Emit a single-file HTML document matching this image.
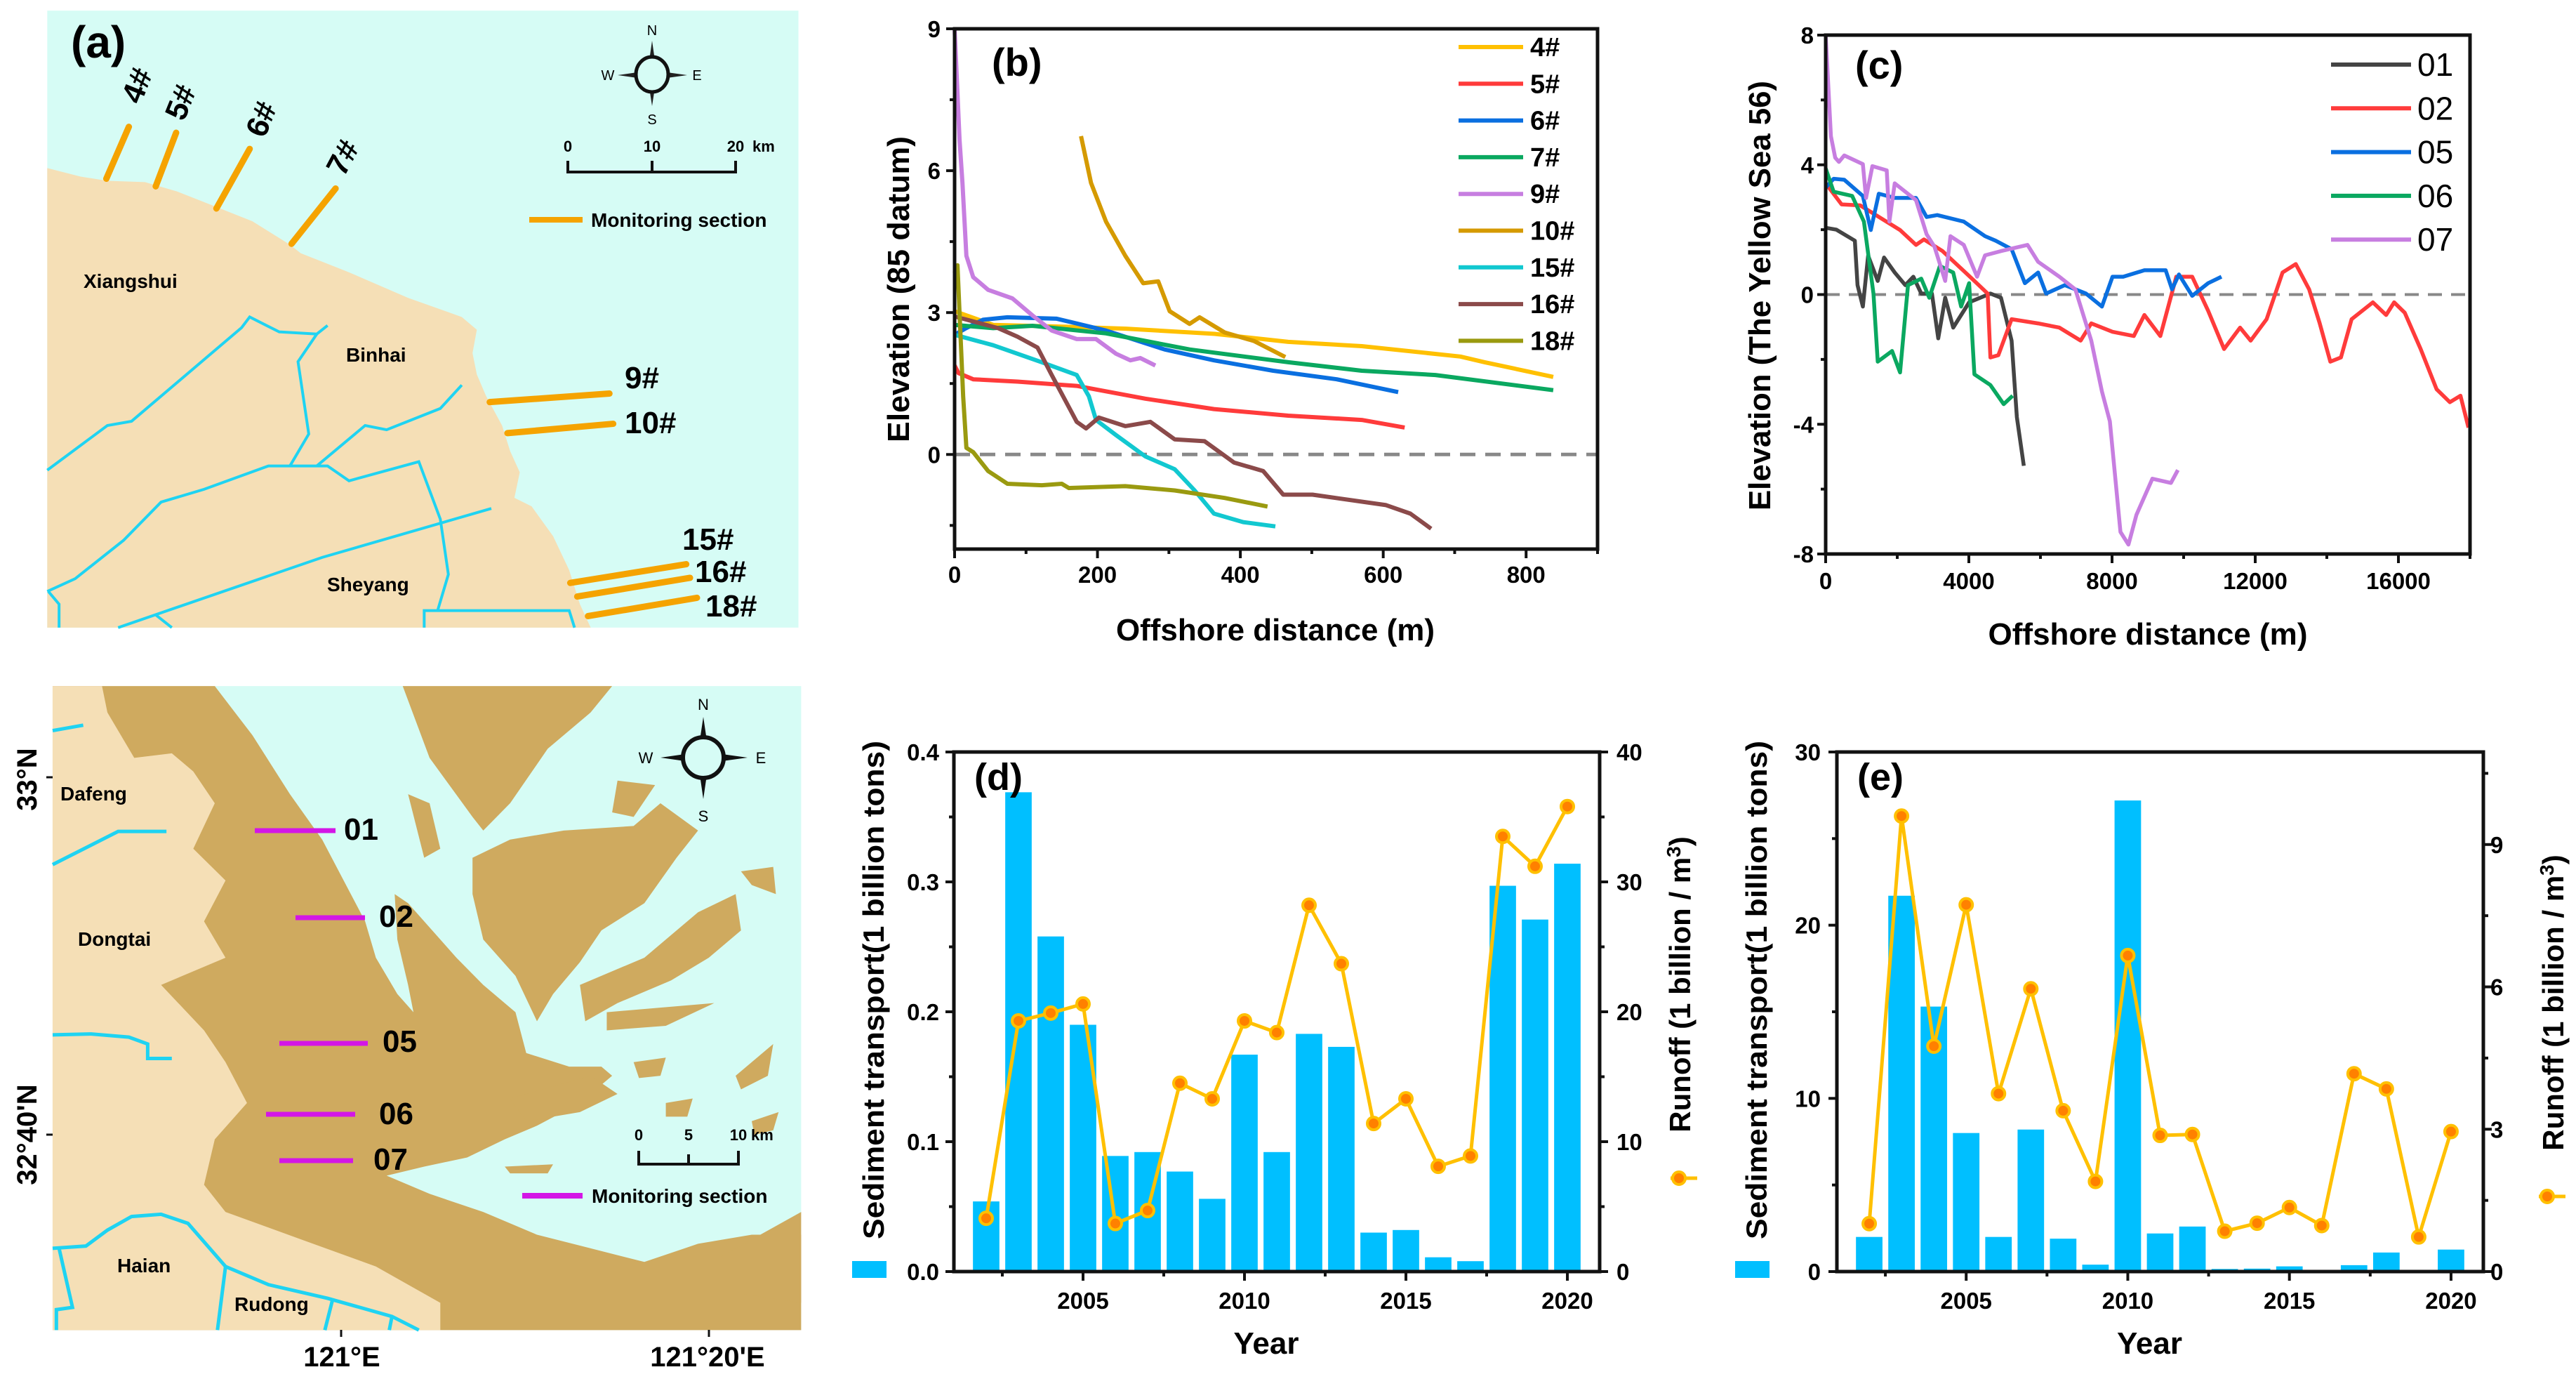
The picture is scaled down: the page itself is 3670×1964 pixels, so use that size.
<!DOCTYPE html>
<html><head><meta charset="utf-8"><title>Coastal monitoring figure</title>
<style>
html,body{margin:0;padding:0;background:#fff;}
svg{display:block;font-family:"Liberation Sans",Arial,sans-serif;}
.b{font-weight:bold;}
</style></head>
<body>
<svg id="fig" xmlns="http://www.w3.org/2000/svg" width="3670" height="1964" viewBox="0 0 3670 1964">
<rect x="0" y="0" width="3670" height="1964" fill="#fff"/>

<!-- MAP A -->
<g>
 <g transform="matrix(0.765,0,0,0.606,0,0)">
  <rect x="88" y="25" width="1399" height="1450" fill="#d6fcf5"/>
  <polygon fill="#f5dfb6" points="88,395 150,415 200,425 270,428 330,450 400,485 470,520 540,575 560,595 650,640 760,700 860,745 888,775 880,830 888,880 905,930 935,1000 950,1060 968,1110 958,1170 990,1190 1030,1260 1060,1340 1080,1420 1100,1475 88,1475"/>
  <g fill="none" stroke="#1fd3f2" stroke-width="4" vector-effect="non-scaling-stroke">
   <polyline vector-effect="non-scaling-stroke" points="88,1105 200,1000 245,990 450,770 465,745 520,780 590,785 610,765"/>
   <polyline vector-effect="non-scaling-stroke" points="590,785 555,850 575,1020 540,1095"/>
   <polyline vector-effect="non-scaling-stroke" points="88,1390 140,1360 230,1270 300,1180 380,1150 500,1095 610,1095 650,1130 780,1085 820,1220 835,1350 815,1435"/>
   <polyline vector-effect="non-scaling-stroke" points="590,1095 680,1000 720,1010 820,960 860,905"/>
   <polyline vector-effect="non-scaling-stroke" points="220,1475 600,1310 915,1195"/>
   <polyline vector-effect="non-scaling-stroke" points="90,1390 110,1420 110,1475"/>
   <polyline vector-effect="non-scaling-stroke" points="290,1445 320,1475"/>
   <polyline vector-effect="non-scaling-stroke" points="790,1475 790,1435 1060,1435 1070,1475"/>
  </g>
  <g stroke="#f5a300" stroke-width="9" stroke-linecap="round" vector-effect="non-scaling-stroke">
   <line vector-effect="non-scaling-stroke" x1="198" y1="420" x2="240" y2="298"/>
   <line vector-effect="non-scaling-stroke" x1="290" y1="438" x2="328" y2="312"/>
   <line vector-effect="non-scaling-stroke" x1="403" y1="490" x2="465" y2="350"/>
   <line vector-effect="non-scaling-stroke" x1="543" y1="573" x2="625" y2="443"/>
   <line vector-effect="non-scaling-stroke" x1="912" y1="945" x2="1135" y2="925"/>
   <line vector-effect="non-scaling-stroke" x1="945" y1="1018" x2="1142" y2="996"/>
   <line vector-effect="non-scaling-stroke" x1="1062" y1="1370" x2="1278" y2="1326"/>
   <line vector-effect="non-scaling-stroke" x1="1075" y1="1402" x2="1285" y2="1358"/>
   <line vector-effect="non-scaling-stroke" x1="1095" y1="1448" x2="1298" y2="1405"/>
  </g>
 </g>
 <text x="101" y="82" font-size="64" class="b">(a)</text>
 <g class="b" font-size="44">
  <text transform="translate(200,150) rotate(-68)">4#</text>
  <text transform="translate(262,174) rotate(-68)">5#</text>
  <text transform="translate(377,198) rotate(-68)">6#</text>
  <text transform="translate(490,253) rotate(-62)">7#</text>
  <text x="890" y="553">9#</text>
  <text x="890" y="617">10#</text>
  <text x="972" y="783">15#</text>
  <text x="990" y="829">16#</text>
  <text x="1005" y="878">18#</text>
 </g>
 <g class="b" font-size="28">
  <text x="119" y="410">Xiangshui</text>
  <text x="493" y="515">Binhai</text>
  <text x="466" y="842">Sheyang</text>
 </g>
 <g>
  <polygon points="929,58 935,100 929,106 923,100" fill="#222"/>
  <polygon points="929,151 935,112 929,106 923,112" fill="#222"/>
  <polygon points="880,107 922,101 929,107 922,113" fill="#222"/>
  <polygon points="979,107 936,101 929,107 936,113" fill="#222"/>
  <ellipse cx="929" cy="106" rx="23" ry="25" fill="#d6fcf5" stroke="#111" stroke-width="5"/>
  <text x="929" y="50" font-size="20" text-anchor="middle">N</text>
  <text x="929" y="177" font-size="20" text-anchor="middle">S</text>
  <text x="866" y="114" font-size="20" text-anchor="middle">W</text>
  <text x="993" y="114" font-size="20" text-anchor="middle">E</text>
 </g>
 <g>
  <polyline points="809,229 809,245 1048,245 1048,229" fill="none" stroke="#111" stroke-width="4"/>
  <line x1="929" y1="229" x2="929" y2="245" stroke="#111" stroke-width="4"/>
  <text x="809" y="216" font-size="22" class="b" text-anchor="middle">0</text>
  <text x="929" y="216" font-size="22" class="b" text-anchor="middle">10</text>
  <text x="1048" y="216" font-size="22" class="b" text-anchor="middle">20</text>
  <text x="1072" y="216" font-size="22" class="b">km</text>
 </g>
 <g>
  <line x1="754" y1="313" x2="830" y2="313" stroke="#f5a300" stroke-width="8"/>
  <text x="842" y="323" font-size="28" class="b">Monitoring section</text>
 </g>
</g>

<!-- MAP B -->
<g>
 <g transform="matrix(0.765,0,0,0.6468,0,950)">
  <rect x="98" y="42" width="1394" height="1418" fill="#d6fcf5"/>
  <g fill="#cfaa5f">
   <polygon points="98,42 400,42 470,150 540,280 600,380 640,470 680,560 700,640 740,720 770,760 760,700 740,600 735,500 760,520 850,640 900,700 960,760 980,850 1060,880 1120,880 1140,900 1080,960 1000,1010 940,1040 870,1080 790,1100 720,1120 800,1160 900,1200 1000,1250 1100,1280 1200,1310 1300,1270 1400,1250 1492,1250 1492,1460 98,1460"/>
   <polygon points="750,42 1140,42 1100,100 1020,180 950,300 900,360 880,330 800,200"/>
   <polygon points="880,420 950,380 1050,360 1180,350 1230,300 1300,360 1260,420 1200,520 1120,580 1080,650 1030,720 1000,780 960,680 900,600 880,500"/>
   <polygon points="1080,700 1200,640 1300,540 1370,500 1380,580 1320,640 1250,690 1150,740 1090,780"/>
   <polygon points="950,950 1100,900 1150,940 1080,980 980,1000"/>
   <polygon points="1130,760 1330,740 1240,790 1130,800"/>
   <polygon points="1370,900 1440,830 1430,900 1380,930"/>
   <polygon points="1240,960 1290,950 1280,990 1240,990"/>
   <polygon points="1380,450 1440,440 1445,500 1400,480"/>
   <polygon points="940,1100 1030,1095 1020,1115 950,1115"/>
   <polygon points="1340,1300 1492,1200 1492,1400 1380,1380"/>
   <polygon points="1150,250 1220,260 1180,330 1140,320"/>
   <polygon points="760,280 800,300 820,400 790,420"/>
   <polygon points="1180,870 1240,860 1230,900 1190,905"/>
   <polygon points="1400,1000 1450,980 1440,1020 1405,1030"/>
  </g>
  <polygon fill="#f5dfb6" points="98,42 190,42 200,100 250,200 320,190 360,230 400,300 360,400 420,470 380,560 420,640 300,700 380,800 420,870 460,960 400,1040 380,1140 420,1200 560,1260 700,1320 820,1400 820,1460 98,1460"/>
  <g fill="none" stroke="#1fd3f2" stroke-width="5">
   <polyline vector-effect="non-scaling-stroke" points="98,140 155,128"/>
   <polyline vector-effect="non-scaling-stroke" points="98,435 220,362 310,362"/>
   <polyline vector-effect="non-scaling-stroke" points="98,810 170,808 240,815 275,830 275,862 320,862"/>
   <polyline vector-effect="non-scaling-stroke" points="98,1280 160,1275 200,1240 245,1210 300,1205 350,1225 420,1320 500,1360 610,1390 730,1430 780,1460"/>
   <polyline vector-effect="non-scaling-stroke" points="110,1280 135,1410 105,1415 105,1460"/>
   <polyline vector-effect="non-scaling-stroke" points="420,1320 405,1460"/>
   <polyline vector-effect="non-scaling-stroke" points="620,1390 605,1460"/>
   <polyline vector-effect="non-scaling-stroke" points="730,1430 725,1460"/>
  </g>
 </g>
 <g stroke="#d316e6" stroke-width="7">
  <line x1="363" y1="1183" x2="478" y2="1183"/>
  <line x1="421" y1="1307" x2="520" y2="1307"/>
  <line x1="398" y1="1486" x2="524" y2="1486"/>
  <line x1="379" y1="1587" x2="506" y2="1587"/>
  <line x1="398" y1="1653" x2="503" y2="1653"/>
 </g>
 <g class="b" font-size="44">
  <text x="490" y="1196">01</text>
  <text x="540" y="1320">02</text>
  <text x="545" y="1498">05</text>
  <text x="540" y="1601">06</text>
  <text x="532" y="1666">07</text>
 </g>
 <g class="b" font-size="28">
  <text x="86" y="1140">Dafeng</text>
  <text x="111" y="1347">Dongtai</text>
  <text x="167" y="1812">Haian</text>
  <text x="334" y="1867">Rudong</text>
 </g>
 <g>
  <polygon points="1002,1021 1009,1068 1002,1079 995,1068" fill="#111"/>
  <polygon points="1002,1138 1009,1090 1002,1079 995,1090" fill="#111"/>
  <polygon points="941,1079 990,1072 1002,1079 990,1086" fill="#111"/>
  <polygon points="1065,1079 1014,1072 1002,1079 1014,1086" fill="#111"/>
  <circle cx="1002" cy="1079" r="29" fill="#d6fcf5" stroke="#111" stroke-width="6"/>
  <text x="1002" y="1011" font-size="22" text-anchor="middle">N</text>
  <text x="1002" y="1170" font-size="22" text-anchor="middle">S</text>
  <text x="920" y="1087" font-size="22" text-anchor="middle">W</text>
  <text x="1084" y="1087" font-size="22" text-anchor="middle">E</text>
 </g>
 <g>
  <polyline points="910,1639 910,1658 1052,1658 1052,1639" fill="none" stroke="#111" stroke-width="4"/>
  <line x1="981" y1="1644" x2="981" y2="1658" stroke="#111" stroke-width="4"/>
  <text x="910" y="1624" font-size="22" class="b" text-anchor="middle">0</text>
  <text x="981" y="1624" font-size="22" class="b" text-anchor="middle">5</text>
  <text x="1052" y="1624" font-size="22" class="b" text-anchor="middle">10</text>
  <text x="1070" y="1624" font-size="22" class="b">km</text>
 </g>
 <g>
  <line x1="744" y1="1703" x2="830" y2="1703" stroke="#d316e6" stroke-width="8"/>
  <text x="843" y="1713" font-size="28" class="b">Monitoring section</text>
 </g>
 <g>
  <line x1="66" y1="1107" x2="75" y2="1107" stroke="#111" stroke-width="3"/>
  <line x1="66" y1="1616" x2="75" y2="1616" stroke="#111" stroke-width="3"/>
  <line x1="486" y1="1894" x2="486" y2="1904" stroke="#111" stroke-width="3"/>
  <line x1="1010" y1="1894" x2="1010" y2="1904" stroke="#111" stroke-width="3"/>
  <text transform="translate(52,1110) rotate(-90)" font-size="40" class="b" text-anchor="middle">33°N</text>
  <text transform="translate(52,1616) rotate(-90)" font-size="40" class="b" text-anchor="middle">32°40'N</text>
  <text x="487" y="1946" font-size="40" class="b" text-anchor="middle">121°E</text>
  <text x="1008" y="1946" font-size="40" class="b" text-anchor="middle">121°20'E</text>
 </g>
</g>

<g id="charts"></g>
</svg>

<script>
// ---------- Panel (b) data ----------
const bNames = ['4#','5#','6#','7#','9#','10#','15#','16#','18#'];
const bColors = ['#ffc000','#ff3b3b','#0a6fe0','#0aa860','#c77ee0','#d59a00','#12c8d0','#8b4a4a','#9a9a10'];
const b4x = [0,54,157,240,364,467,570,708,742,838];
const b4y = [3.03,2.74,2.70,2.66,2.55,2.38,2.29,2.07,1.95,1.64];
const b5x = [0,5.5,26,88,171,267,363,467,570,630];
const b5y = [1.88,1.72,1.59,1.54,1.45,1.18,0.96,0.82,0.73,0.57];
const b6x = [0,16,40,74,143,212,294,363,446,535,621];
const b6y = [2.53,2.67,2.85,2.9,2.87,2.62,2.22,1.99,1.77,1.59,1.32];
const b7x = [0,54,109,212,329,467,570,673,838];
const b7y = [2.74,2.67,2.72,2.56,2.22,1.95,1.77,1.68,1.36];
const b9x = [0,7,11,16.5,26,47,81,109,136,171,198,226,246,260,281];
const b9y = [9,6.64,5.74,4.2,3.75,3.48,3.3,2.94,2.62,2.44,2.44,2.13,1.99,2.04,1.88];
const b10x = [177,191,212,239,264,285,301,329,343,378,419,463];
const b10y = [6.73,5.74,4.92,4.2,3.62,3.66,3.03,2.76,2.9,2.58,2.4,2.06];
const b15x = [0,54,122,171,188,198,226,267,308,336,363,404,449];
const b15y = [2.53,2.31,1.95,1.68,1.23,0.73,0.41,-0.04,-0.31,-0.76,-1.25,-1.43,-1.52];
const b16x = [0,61,88,116,136,171,184,202,239,274,308,350,391,432,460,501,604,638,667];
const b16y = [2.92,2.67,2.49,2.26,1.68,0.69,0.55,0.78,0.6,0.69,0.32,0.28,-0.17,-0.35,-0.85,-0.85,-1.07,-1.25,-1.57];
const b18x = [0,4,12,16.5,26,47,74,122,150,160,239,308,378,438];
const b18y = [3.84,4.0,1.23,0.14,0.05,-0.35,-0.62,-0.65,-0.62,-0.71,-0.67,-0.76,-0.92,-1.1];
const bXTicks = [0,200,400,600,800];
const bYTicks = [0,3,6,9];

// ---------- Panel (c) data ----------
const cNames = ['01','02','05','06','07'];
const cColors = ['#444444','#ff3b3b','#0a6fe0','#0aa860','#c77ee0'];
const c01x = [0,300,816,890,1039,1187,1454,1632,1929,2226,2449,2671,2968,3146,3339,3562,4007,4601,4898,5194,5342,5535];
const c01y = [2.06,2.0,1.66,0.29,-0.37,1.2,0.42,1.14,0.68,0.29,0.55,0.03,0.03,-1.35,-0.1,-1.02,-0.24,0.03,-0.1,-1.42,-3.78,-5.28];
const c02x = [0,445,965,2078,2523,2745,3265,4155,4526,4601,4823,5194,5936,6530,7124,7420,8014,8608,8904,9349,9794,10240,10685,11130,11576,11873,12318,12763,13134,13505,13802,14099,14395,14692,15286,15657,15880,16176,16621,17066,17437,17734,17956];
const c02y = [3.43,2.78,2.75,1.99,1.53,1.7,1.34,0.42,0.03,-1.94,-1.87,-0.76,-0.89,-1.02,-1.42,-0.89,-1.15,-1.28,-0.63,-1.28,0.55,0.55,-0.5,-1.68,-1.02,-1.42,-0.76,0.68,0.94,0.16,-0.89,-2.07,-1.94,-0.76,-0.24,-0.63,-0.24,-0.56,-1.68,-2.92,-3.32,-3.12,-4.1];
const c05x = [0,223,519,1039,1261,1484,1929,2523,2820,3117,3858,4452,4749,5194,5565,5936,6158,6678,7272,7717,8014,8311,8904,9498,9676,9869,10240,10685,11056];
const c05y = [3.3,3.57,3.54,3.04,1.99,3.11,2.98,2.98,2.39,2.45,2.25,1.8,1.66,1.4,0.35,0.68,0.03,0.29,0.03,-0.37,0.55,0.55,0.75,0.75,0.16,0.62,-0.04,0.35,0.55];
const c06x = [0,223,742,1068,1335,1454,1855,2078,2300,2671,2894,3191,3562,3784,4007,4155,4601,4972,5224];
const c06y = [3.89,3.17,3.04,2.25,0.03,-2.07,-1.74,-2.4,0.29,0.49,-0.1,0.88,0.68,-0.37,0.35,-2.46,-2.79,-3.38,-3.12];
const c07x = [0,148,267,371,519,1039,1128,1306,1706,1781,1929,2523,2820,3042,3339,3487,3858,4229,4452,4898,5639,5936,6530,6975,7420,7717,7939,8236,8459,8682,9127,9646,9839];
const c07y = [8,4.88,4.22,4.09,4.29,4.02,2.98,3.96,3.83,2.25,3.43,2.91,1.86,1.47,0.42,1.8,1.53,0.55,1.21,1.34,1.53,1.01,0.55,0.16,-1.42,-2.99,-3.91,-7.32,-7.71,-6.79,-5.68,-5.81,-5.41];
const cXTicks = [0,4000,8000,12000,16000];
const cYTicks = [-8,-4,0,4,8];

// ---------- Panel (d) data ----------
const years = [2002,2003,2004,2005,2006,2007,2008,2009,2010,2011,2012,2013,2014,2015,2016,2017,2018,2019,2020];
const dSediment = [0.054,0.369,0.258,0.190,0.089,0.092,0.077,0.056,0.167,0.092,0.183,0.173,0.030,0.032,0.011,0.008,0.297,0.271,0.314];
const dRunoff = [4.1,19.3,19.9,20.6,3.7,4.7,14.5,13.3,19.3,18.4,28.2,23.7,11.4,13.3,8.1,8.9,33.5,31.2,35.8];
const dLeftTicks = ['0.0','0.1','0.2','0.3','0.4'];
const dRightTicks = [0,10,20,30,40];

// ---------- Panel (e) data ----------
const eSediment = [2.0,21.7,15.3,8.0,2.0,8.2,1.9,0.4,27.2,2.2,2.6,0.15,0.17,0.3,0.05,0.37,1.1,0,1.27];
const eRunoff = [1.01,9.6,4.75,7.73,3.75,5.96,3.39,1.9,6.66,2.87,2.89,0.85,1.02,1.35,0.97,4.17,3.85,0.73,2.95];
const eLeftTicks = [0,10,20,30];
const eRightTicks = [0,3,6,9];
const yearTicks = [2005,2010,2015,2020];

const NS = 'http://www.w3.org/2000/svg';
const root = document.getElementById('charts');
function mk(tag, attrs, parent){
  const el = document.createElementNS(NS, tag);
  for (const k in attrs) el.setAttribute(k, attrs[k]);
  (parent||root).appendChild(el);
  return el;
}
function txt(str, attrs, parent){
  const t = mk('text', attrs, parent);
  t.textContent = str;
  return t;
}
function pathFrom(xs, ys, fx, fy){
  let d = '';
  for (let i=0;i<xs.length;i++) d += (i?'L':'M') + fx(xs[i]).toFixed(1) + ',' + fy(ys[i]).toFixed(1);
  return d;
}
const AX = '#111', AW = 5;

// ===== Panel (b) =====
const bL=1360,bR=2276,bT=41,bB=782;
const bx = v => bL + v*(bR-bL)/900;
const by = v => bB - (v+2)*(bB-bT)/11;
const gb = mk('g',{});


const bZero = mk('line',{x1:bL,x2:bR,y1:by(0),y2:by(0),stroke:'#888','stroke-width':5,'stroke-dasharray':'22,14'},gb);


const bSeriesX=[b4x,b5x,b6x,b7x,b9x,b10x,b15x,b16x,b18x];
const bSeriesY=[b4y,b5y,b6y,b7y,b9y,b10y,b15y,b16y,b18y];
for (let i=0;i<bNames.length;i++){
  const p = mk('path',{d:pathFrom(bSeriesX[i],bSeriesY[i],bx,by),fill:'none',stroke:bColors[i],'stroke-width':6,'stroke-linejoin':'round'},gb);
  
  
  const ly = 67 + i*52.3;
  const ll = mk('line',{x1:2078,x2:2170,y1:ly,y2:ly,stroke:bColors[i],'stroke-width':6},gb);
  
  
  const lt = txt(bNames[i],{x:2180,y:ly+13,'font-size':38,'font-weight':'bold'},gb);
  
  
}
const bFrame = mk('rect',{x:bL,y:bT,width:bR-bL,height:bB-bT,fill:'none',stroke:AX,'stroke-width':AW},gb);


for (const v of bXTicks){
  const t = mk('line',{x1:bx(v),x2:bx(v),y1:bB,y2:bB+13,stroke:AX,'stroke-width':4},gb);
  
  
  const l = txt(String(v),{x:bx(v),y:830,'font-size':33,'font-weight':'bold','text-anchor':'middle'},gb);
  
  
  if (v+100<=900){ const m=mk('line',{x1:bx(v+100),x2:bx(v+100),y1:bB,y2:bB+7,stroke:AX,'stroke-width':4},gb);   }
}
for (const v of bYTicks){
  const t = mk('line',{x1:bL-12,x2:bL,y1:by(v),y2:by(v),stroke:AX,'stroke-width':4},gb);
  
  
  const l = txt(String(v),{x:1340,y:by(v)+12,'font-size':33,'font-weight':'bold','text-anchor':'end'},gb);
  
  
  if (v-1.5>=-2){ const m=mk('line',{x1:bL-7,x2:bL,y1:by(v-1.5),y2:by(v-1.5),stroke:AX,'stroke-width':4},gb);   }
}
const bxt = txt('Offshore distance (m)',{x:1817,y:912,'font-size':44,'font-weight':'bold','text-anchor':'middle',textLength:454,lengthAdjust:'spacingAndGlyphs'},gb);


const byt = txt('Elevation (85 datum)',{transform:'translate(1295,412) rotate(-90)','font-size':44,'font-weight':'bold','text-anchor':'middle',textLength:436,lengthAdjust:'spacingAndGlyphs'},gb);


const bLab = txt('(b)',{x:1413,y:108,'font-size':56,'font-weight':'bold'},gb);



// ===== Panel (c) =====
const cL=2601,cR=3519,cT=50,cB=789;
const cx = v => cL + v*(cR-cL)/18000;
const cy = v => cB - (v+8)*(cB-cT)/16;
const gc = mk('g',{});


const cZero = mk('line',{x1:cL,x2:cR,y1:cy(0),y2:cy(0),stroke:'#888','stroke-width':4,'stroke-dasharray':'20,13'},gc);


const cSeriesX=[c01x,c02x,c05x,c06x,c07x];
const cSeriesY=[c01y,c02y,c05y,c06y,c07y];
for (let i=0;i<cNames.length;i++){
  const p = mk('path',{d:pathFrom(cSeriesX[i],cSeriesY[i],cx,cy),fill:'none',stroke:cColors[i],'stroke-width':5.5,'stroke-linejoin':'round'},gc);
  
  
  const ly = 92 + i*62.3;
  const ll = mk('line',{x1:3321,x2:3435,y1:ly,y2:ly,stroke:cColors[i],'stroke-width':6},gc);
  
  
  const lt = txt(cNames[i],{x:3444,y:ly+16,'font-size':46},gc);
  
  
}
const cFrame = mk('rect',{x:cL,y:cT,width:cR-cL,height:cB-cT,fill:'none',stroke:AX,'stroke-width':AW},gc);


for (const v of cXTicks){
  const t = mk('line',{x1:cx(v),x2:cx(v),y1:cB,y2:cB+13,stroke:AX,'stroke-width':4},gc);
  
  
  const l = txt(String(v),{x:cx(v),y:839,'font-size':33,'font-weight':'bold','text-anchor':'middle'},gc);
  
  
  const m=mk('line',{x1:cx(v+2000),x2:cx(v+2000),y1:cB,y2:cB+7,stroke:AX,'stroke-width':4},gc);
  
  
}
for (const v of cYTicks){
  const t = mk('line',{x1:cL-12,x2:cL,y1:cy(v),y2:cy(v),stroke:AX,'stroke-width':4},gc);
  
  
  const l = txt(String(v),{x:2584,y:cy(v)+12,'font-size':33,'font-weight':'bold','text-anchor':'end'},gc);
  
  
  if (v+2<=8){ const m=mk('line',{x1:cL-7,x2:cL,y1:cy(v+2),y2:cy(v+2),stroke:AX,'stroke-width':4},gc);   }
}
const cxt = txt('Offshore distance (m)',{x:3060,y:918,'font-size':44,'font-weight':'bold','text-anchor':'middle',textLength:455,lengthAdjust:'spacingAndGlyphs'},gc);


const cyt = txt('Elevation (The Yellow Sea 56)',{transform:'translate(2522,421) rotate(-90)','font-size':44,'font-weight':'bold','text-anchor':'middle',textLength:612,lengthAdjust:'spacingAndGlyphs'},gc);


const cLab = txt('(c)',{x:2643,y:112,'font-size':56,'font-weight':'bold'},gc);



// ===== Bar + line panels (d),(e) =====
function barPanel(cfg){
  const {L,R,T,B,sed,run,leftMax,rightMax,leftTicks,rightTicks,leftMinorStep,rightMinorStep,name,label,leftLabX,rightLabX,sedTitleX,runTitleX,runTitleY,legSqX,legMarkX,legMarkY} = cfg;
  const g = mk('g',{});
  
  
  const xs = y => L + (y-2001)*(R-L)/20;
  const yl = v => B - v*(B-T)/leftMax;
  const yr = v => B - v*(B-T)/rightMax;
  const bw = 0.82*(R-L)/20;
  for (let i=0;i<years.length;i++){
    const r = mk('rect',{x:xs(years[i])-bw/2,y:yl(sed[i]),width:bw,height:B-yl(sed[i]),fill:'#00bfff'},g);
    
    
  }
  const ln = mk('path',{d:pathFrom(years,run,xs,yr),fill:'none',stroke:'#ffc000','stroke-width':5,'stroke-linejoin':'round'},g);
  
  
  for (let i=0;i<years.length;i++){
    const c = mk('circle',{cx:xs(years[i]),cy:yr(run[i]),r:9,fill:'#ff8000',stroke:'#ffc000','stroke-width':4},g);
    
    
  }
  const f = mk('rect',{x:L,y:T,width:R-L,height:B-T,fill:'none',stroke:AX,'stroke-width':AW},g);
  
  
  for (const y of yearTicks){
    const t = mk('line',{x1:xs(y),x2:xs(y),y1:B,y2:B+13,stroke:AX,'stroke-width':4},g);
    
    
    const l = txt(String(y),{x:xs(y),y:1864,'font-size':33,'font-weight':'bold','text-anchor':'middle'},g);
    
    
    const m = mk('line',{x1:xs(y-2.5),x2:xs(y-2.5),y1:B,y2:B+7,stroke:AX,'stroke-width':4},g);
    
    
  }
  for (const v of leftTicks){
    const n = parseFloat(v);
    const t = mk('line',{x1:L-12,x2:L,y1:yl(n),y2:yl(n),stroke:AX,'stroke-width':4},g);
    
    
    const l = txt(String(v),{x:leftLabX,y:yl(n)+12,'font-size':33,'font-weight':'bold','text-anchor':'end'},g);
    
    
    if (n+leftMinorStep<leftMax){ const m=mk('line',{x1:L-7,x2:L,y1:yl(n+leftMinorStep),y2:yl(n+leftMinorStep),stroke:AX,'stroke-width':4},g);   }
  }
  for (const v of rightTicks){
    const t = mk('line',{x1:R,x2:R+12,y1:yr(v),y2:yr(v),stroke:AX,'stroke-width':4},g);
    
    
    const l = txt(String(v),{x:rightLabX,y:yr(v)+12,'font-size':33,'font-weight':'bold'},g);
    
    
    if (v+rightMinorStep<rightMax){ const m=mk('line',{x1:R,x2:R+7,y1:yr(v+rightMinorStep),y2:yr(v+rightMinorStep),stroke:AX,'stroke-width':4},g);   }
  }
  const xt = txt('Year',{x:(L+R)/2-15,y:1928,'font-size':44,'font-weight':'bold','text-anchor':'middle'},g);
  
  
  const st = txt('Sediment transport(1 billion tons)',{transform:'translate('+sedTitleX+',1410) rotate(-90)','font-size':42,'font-weight':'bold','text-anchor':'middle',textLength:710,lengthAdjust:'spacingAndGlyphs'},g);
  
  
  const rt = mk('text',{transform:'translate('+runTitleX+','+runTitleY+') rotate(-90)','font-size':42,'font-weight':'bold','text-anchor':'middle'},g);
  
  
  rt.textContent = 'Runoff  (1 billion / m';
  const sup = document.createElementNS(NS,'tspan');
  sup.setAttribute('dy','-14'); sup.setAttribute('font-size','28'); sup.textContent='3';
  rt.appendChild(sup);
  const close = document.createElementNS(NS,'tspan');
  close.setAttribute('dy','14'); close.textContent=')';
  rt.appendChild(close);
  const sq = mk('rect',{x:legSqX,y:1796,width:49,height:24,fill:'#00bfff'},g);
  
  
  const lm = mk('line',{x1:legMarkX-12,x2:legMarkX+26,y1:legMarkY,y2:legMarkY,stroke:'#ffc000','stroke-width':5},g);
  
  
  const lc = mk('circle',{cx:legMarkX,cy:legMarkY,r:9,fill:'#ff8000',stroke:'#ffc000','stroke-width':4},g);
  
  
  const pl = txt(label,{x:L+29,y:1125,'font-size':54,'font-weight':'bold'},g);
  
  
}
barPanel({L:1359,R:2279,T:1071,B:1811,sed:dSediment,run:dRunoff,leftMax:0.4,rightMax:40,leftTicks:dLeftTicks,rightTicks:dRightTicks,leftMinorStep:0.05,rightMinorStep:5,name:'d',label:'(d)',leftLabX:1338,rightLabX:2303,sedTitleX:1259,runTitleX:2408,runTitleY:1402,legSqX:1214,legMarkX:2392,legMarkY:1678});
barPanel({L:2617,R:3538,T:1071,B:1811,sed:eSediment,run:eRunoff,leftMax:30,rightMax:10.95,leftTicks:eLeftTicks,rightTicks:eRightTicks,leftMinorStep:5,rightMinorStep:1.5,name:'e',label:'(e)',leftLabX:2594,rightLabX:3548,sedTitleX:2517,runTitleX:3652,runTitleY:1428,legSqX:2472,legMarkX:3629,legMarkY:1704});
</script>
</body></html>
